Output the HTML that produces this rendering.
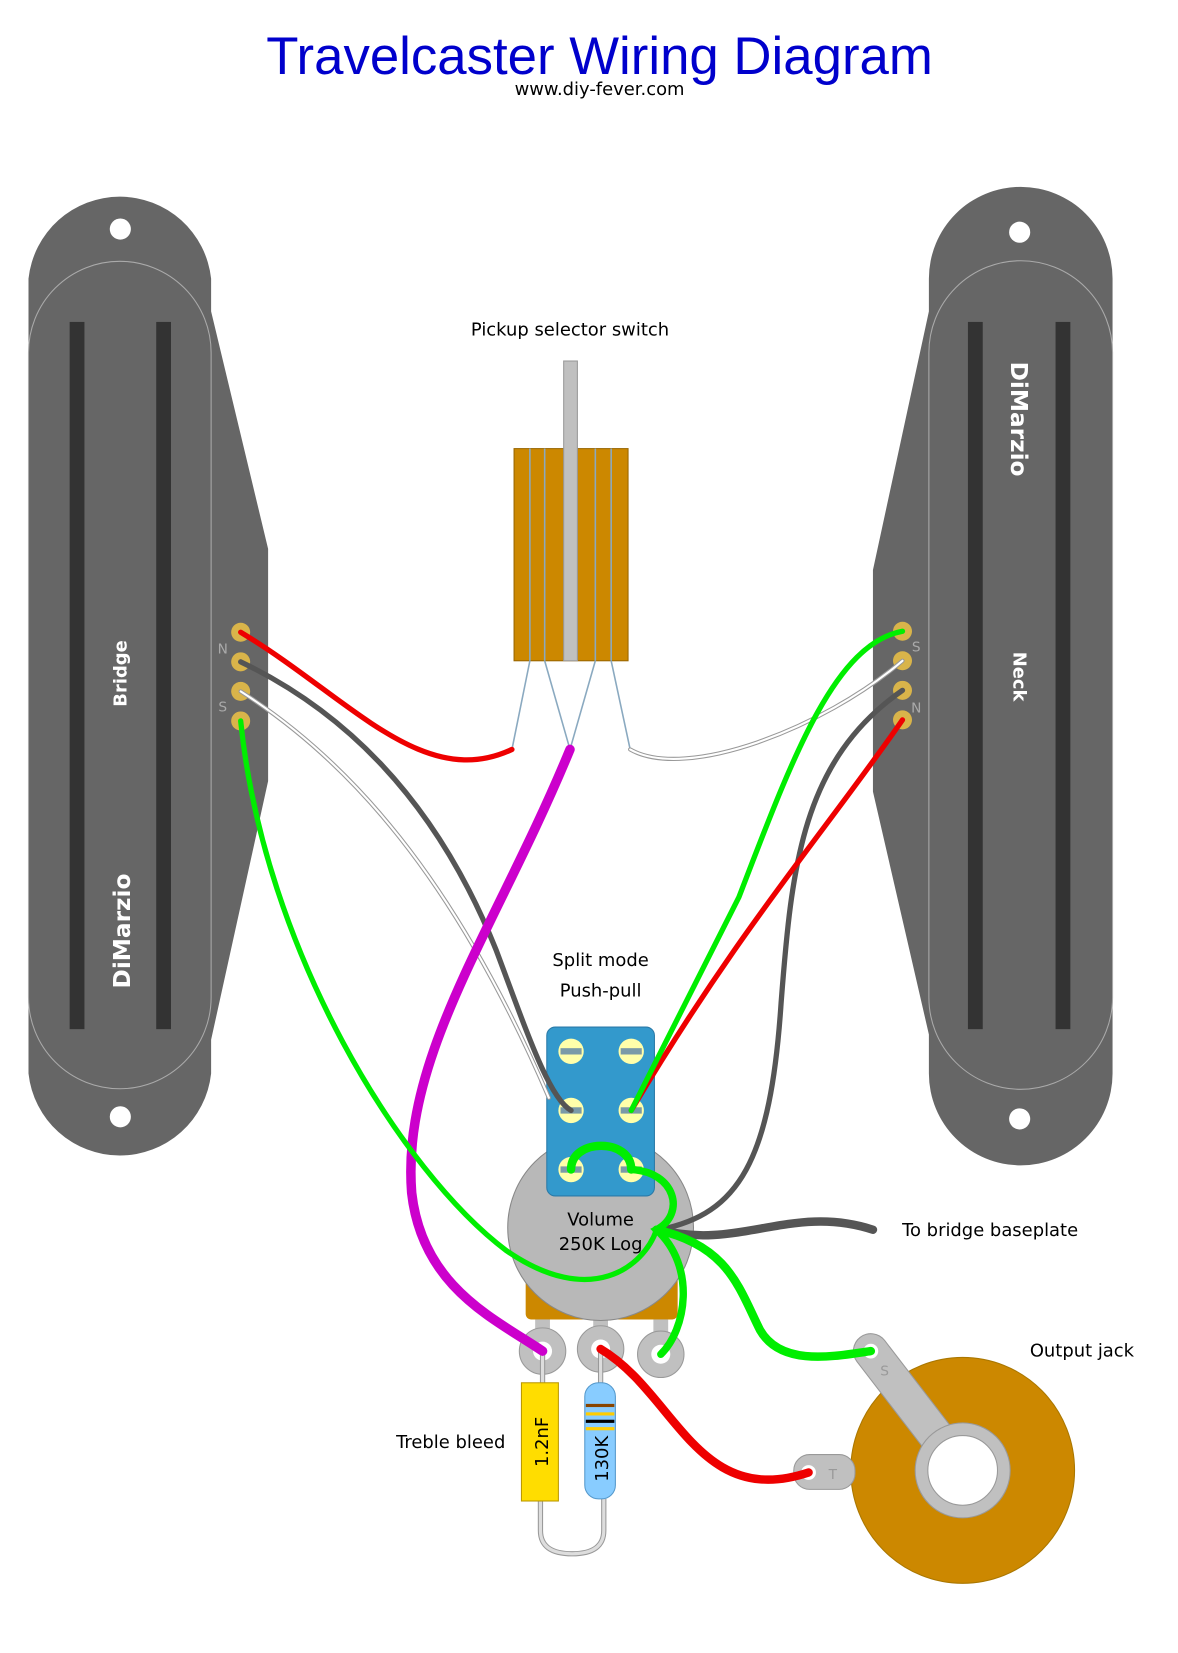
<!DOCTYPE html>
<html><head><meta charset="utf-8"><style>html,body{margin:0;padding:0;background:#fff}svg{display:block}</style></head>
<body>
<svg width="1178" height="1653" viewBox="0 0 1116 1566" xmlns="http://www.w3.org/2000/svg" font-family="'DejaVu Sans','Liberation Sans',sans-serif">
<rect width="1116" height="1566" fill="#fff"/>
<text x="568" y="70" text-anchor="middle" font-family="'Liberation Sans',sans-serif" font-size="50" fill="#0000cc">Travelcaster Wiring Diagram</text>
<text x="568" y="90" text-anchor="middle" font-size="17" fill="#000">www.diy-fever.com</text>

<!-- Left pickup -->
<path d="M27,264 A87,87 0 0 1 200,264 L200,295 L254,520 L254,740 L200,985 L200,1017 A87,87 0 0 1 27,1017 Z" fill="#666"/>
<path d="M27,334 A86.5,86.5 0 0 1 200,334 L200,945 A86.5,86.5 0 0 1 27,945 Z" fill="none" stroke="#aaa" stroke-width="1"/>
<rect x="66" y="305" width="14" height="670" fill="#333"/>
<rect x="148" y="305" width="14" height="670" fill="#333"/>
<circle cx="114" cy="217" r="10" fill="#fff"/>
<circle cx="114" cy="1058" r="10" fill="#fff"/>
<text transform="translate(120,638) rotate(-90)" text-anchor="middle" font-size="17" font-weight="bold" fill="#fff">Bridge</text>
<text transform="translate(123,882) rotate(-90)" text-anchor="middle" font-size="22" font-weight="bold" fill="#fff">DiMarzio</text>
<g fill="#d9b44a"><circle cx="228" cy="599" r="9"/><circle cx="228" cy="627" r="9"/><circle cx="228" cy="655" r="9"/><circle cx="228" cy="683" r="9"/></g>
<text x="211" y="619" text-anchor="middle" font-size="13" fill="#aaa">N</text>
<text x="211" y="674" text-anchor="middle" font-size="13" fill="#aaa">S</text>

<!-- Right pickup -->
<path d="M880,264 A87,87 0 0 1 1054,264 L1054,1017 A87,87 0 0 1 880,1017 L880,980 L827,750 L827,540 L880,295 Z" fill="#666"/>
<path d="M880,334 A87,87 0 0 1 1054,334 L1054,945 A87,87 0 0 1 880,945 Z" fill="none" stroke="#aaa" stroke-width="1"/>
<rect x="917" y="305" width="14" height="670" fill="#333"/>
<rect x="1000" y="305" width="14" height="670" fill="#333"/>
<circle cx="966" cy="220" r="10" fill="#fff"/>
<circle cx="966" cy="1060" r="10" fill="#fff"/>
<text transform="translate(958,397) rotate(90)" text-anchor="middle" font-size="22" font-weight="bold" fill="#fff">DiMarzio</text>
<text transform="translate(960,641) rotate(90)" text-anchor="middle" font-size="17" font-weight="bold" fill="#fff">Neck</text>
<g fill="#d9b44a"><circle cx="855" cy="598" r="9"/><circle cx="855" cy="626" r="9"/><circle cx="855" cy="654" r="9"/><circle cx="855" cy="682" r="9"/></g>
<text x="868" y="617" text-anchor="middle" font-size="13" fill="#aaa">S</text>
<text x="868" y="675" text-anchor="middle" font-size="13" fill="#aaa">N</text>

<!-- Selector switch -->
<text x="540" y="318" text-anchor="middle" font-size="17">Pickup selector switch</text>
<rect x="487" y="425" width="108" height="201" fill="#cc8800" stroke="#996600" stroke-width="1"/>
<g stroke="#8aa9c0" stroke-width="1.5"><line x1="502" y1="425" x2="502" y2="626"/><line x1="516" y1="425" x2="516" y2="626"/><line x1="564" y1="425" x2="564" y2="626"/><line x1="579" y1="425" x2="579" y2="626"/>
<line x1="502" y1="626" x2="485" y2="710"/><line x1="516" y1="626" x2="540" y2="710"/><line x1="564" y1="626" x2="540" y2="710"/><line x1="579" y1="626" x2="597" y2="710"/></g>
<rect x="534" y="342" width="13" height="284" fill="#c0c0c0" stroke="#999" stroke-width="1"/>

<!-- Pot -->
<rect x="498" y="1195" width="144" height="55" rx="5" fill="#cc8800"/>
<g fill="#c0c0c0"><rect x="507" y="1250" width="14" height="14"/><rect x="562" y="1250" width="14" height="14"/><rect x="619" y="1250" width="14" height="14"/></g>
<circle cx="569" cy="1163" r="88" fill="#b8b8b8" stroke="#888" stroke-width="1"/>
<g fill="#c0c0c0" stroke="#999"><circle cx="514" cy="1280" r="22"/><circle cx="569" cy="1278" r="22"/><circle cx="626" cy="1283" r="22"/></g>
<g fill="#fff"><circle cx="514" cy="1280" r="9"/><circle cx="569" cy="1278" r="9"/><circle cx="626" cy="1283" r="9"/></g>
<text x="569" y="1161" text-anchor="middle" font-size="17">Volume</text>
<text x="569" y="1184" text-anchor="middle" font-size="17">250K Log</text>

<!-- Push-pull -->
<text x="569" y="915" text-anchor="middle" font-size="17">Split mode</text>
<text x="569" y="944" text-anchor="middle" font-size="17">Push-pull</text>
<rect x="518" y="973" width="102" height="160" rx="8" fill="#3399cc" stroke="#2a7aa8"/>
<g fill="#ffffaa"><circle cx="541" cy="996" r="12"/><circle cx="598" cy="996" r="12"/><circle cx="541" cy="1052" r="12"/><circle cx="598" cy="1052" r="12"/><circle cx="541" cy="1108" r="12"/><circle cx="598" cy="1108" r="12"/></g>
<g fill="#7a9aa8"><rect x="531" y="993" width="20" height="6"/><rect x="588" y="993" width="20" height="6"/><rect x="531" y="1049" width="20" height="6"/><rect x="588" y="1049" width="20" height="6"/><rect x="531" y="1105" width="20" height="6"/><rect x="588" y="1105" width="20" height="6"/></g>

<!-- Treble bleed -->
<path d="M514,1280 L514,1310 M512,1422 L512,1450 Q512,1472 542,1472 Q572,1472 572,1450 L572,1420 M569,1278 L569,1310" fill="none" stroke="#999" stroke-width="5"/>
<path d="M514,1280 L514,1310 M512,1422 L512,1450 Q512,1472 542,1472 Q572,1472 572,1450 L572,1420 M569,1278 L569,1310" fill="none" stroke="#ddd" stroke-width="3"/>
<rect x="494" y="1310" width="35" height="112" fill="#ffdd00" stroke="#bb9900"/>
<text transform="translate(519,1366) rotate(-90)" text-anchor="middle" font-size="17">1.2nF</text>
<rect x="554" y="1310" width="29" height="110" rx="13" fill="#88ccff" stroke="#5599cc"/>
<rect x="555" y="1330" width="27" height="3" fill="#884400"/><rect x="555" y="1338" width="27" height="3" fill="#ffcc00"/><rect x="555" y="1345" width="27" height="3" fill="#000"/><rect x="555" y="1352" width="27" height="3" fill="#ffcc00"/>
<text transform="translate(576,1382) rotate(-90)" text-anchor="middle" font-size="17">130K</text>
<text x="427" y="1372" text-anchor="middle" font-size="17">Treble bleed</text>

<!-- Jack -->
<ellipse cx="912" cy="1393" rx="106" ry="107" fill="#cc8800" stroke="#aa7700"/>
<path d="M825,1280 L912,1393" stroke="#999" stroke-width="34" stroke-linecap="round"/>
<path d="M825,1280 L912,1393" stroke="#c0c0c0" stroke-width="32" stroke-linecap="round"/>
<rect x="752" y="1378" width="58" height="33" rx="15" fill="#c0c0c0" stroke="#999"/>
<circle cx="912" cy="1393" r="45" fill="#c0c0c0" stroke="#999"/>
<circle cx="912" cy="1393" r="33" fill="#fff" stroke="#999"/>
<circle cx="825" cy="1280" r="7" fill="#fff"/><circle cx="766" cy="1395" r="7" fill="#fff"/>
<text x="838" y="1303" text-anchor="middle" font-size="13" fill="#999">S</text>
<text x="789" y="1401" text-anchor="middle" font-size="13" fill="#999">T</text>
<text x="1025" y="1285" text-anchor="middle" font-size="17">Output jack</text>
<text x="938" y="1171" text-anchor="middle" font-size="17">To bridge baseplate</text>

<!-- Wires -->
<g fill="none" stroke-linecap="round">
<path d="M228,655 C330,720 430,830 520,1040" stroke="#999" stroke-width="4"/>
<path d="M228,655 C330,720 430,830 520,1040" stroke="#fff" stroke-width="2"/>
<path d="M855,626 C780,690 650,740 597,710" stroke="#999" stroke-width="4"/>
<path d="M855,626 C780,690 650,740 597,710" stroke="#fff" stroke-width="2"/>
<path d="M228,599 C330,660 400,750 485,710" stroke="#ee0000" stroke-width="5"/>
<path d="M228,627 C360,690 430,800 470,900 C500,980 520,1040 541,1052" stroke="#555" stroke-width="5"/>
<path d="M855,654 C760,720 750,820 740,950 C730,1100 700,1150 625,1165" stroke="#555" stroke-width="5"/>
<path d="M625,1165 C700,1185 750,1140 827,1165" stroke="#555" stroke-width="8"/>
<path d="M540,710 C470,880 380,1000 390,1130 C400,1220 470,1250 514,1280" stroke="#cc00cc" stroke-width="9"/>
<path d="M855,682 C780,790 700,880 598,1052" stroke="#ee0000" stroke-width="5"/>
<path d="M855,598 C790,610 750,720 700,850 L598,1052" stroke="#00ee00" stroke-width="5"/>
<path d="M228,683 C250,900 380,1110 480,1185 C560,1240 610,1200 622,1165" stroke="#00ee00" stroke-width="5"/>
<path d="M541,1108 C541,1078 598,1078 598,1108" stroke="#00ee00" stroke-width="8"/>
<path d="M598,1108 C640,1110 650,1150 622,1165 C660,1200 650,1260 626,1283" stroke="#00ee00" stroke-width="7"/>
<path d="M622,1165 C690,1180 700,1220 720,1260 C740,1295 790,1285 825,1280" stroke="#00ee00" stroke-width="8"/>
<path d="M569,1278 C640,1320 660,1430 766,1395" stroke="#ee0000" stroke-width="8"/>
</g>
</svg>
</body></html>
